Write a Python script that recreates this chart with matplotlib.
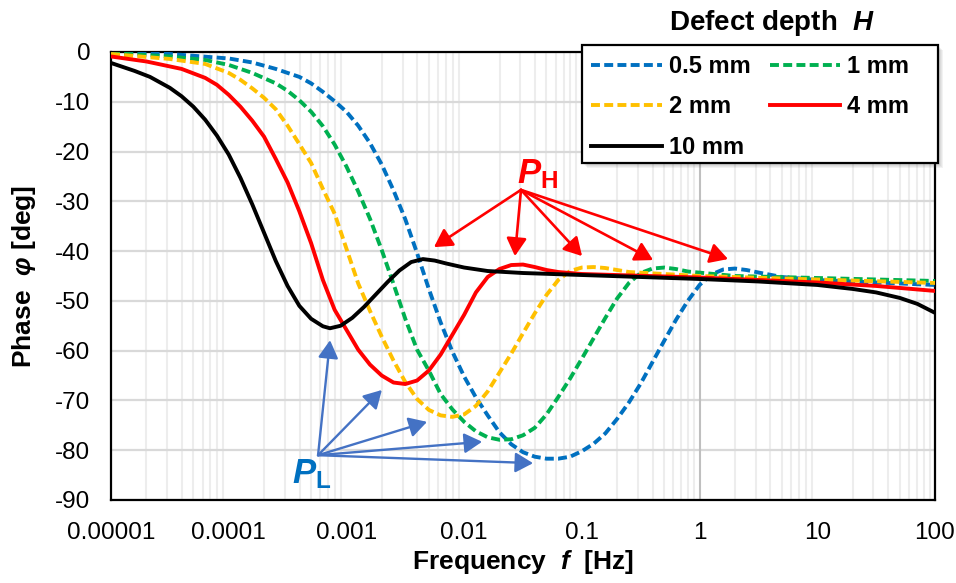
import matplotlib
matplotlib.use("Agg")
import matplotlib.pyplot as plt
from matplotlib.patches import Rectangle
from matplotlib.ticker import FixedLocator, NullFormatter
import numpy as np

plt.rcParams["font.family"] = ["Liberation Sans", "DejaVu Sans"]
plt.rcParams["mathtext.fontset"] = "custom"
plt.rcParams["mathtext.it"] = "Liberation Sans:italic:bold"
plt.rcParams["mathtext.bf"] = "Liberation Sans:bold"
plt.rcParams["mathtext.rm"] = "Liberation Sans:bold"

# values: log10(frequency / Hz) and phase [deg]
logf_05 = [-5.0, -4.5, -4.0, -3.8, -3.6, -3.4, -3.3, -3.2, -3.1, -3.0,
           -2.9, -2.8, -2.7, -2.6, -2.5, -2.4, -2.3, -2.2, -2.1, -2.0,
           -1.9, -1.8, -1.7, -1.6, -1.5, -1.4, -1.3, -1.2, -1.1, -1.0,
           -0.9, -0.8, -0.7, -0.6, -0.5, -0.4, -0.3, -0.2, -0.1, 0.0,
           0.1, 0.2, 0.3, 0.4, 0.5, 0.7, 1.0, 1.5, 2.0]
phase_05 = [-0.1, -0.4, -1.3, -2.1, -3.4, -5.0, -6.3, -8.0, -9.9, -12.0,
            -14.8, -18.3, -22.6, -27.8, -33.6, -40.4, -47.6, -54.3, -60.2, -65.2,
            -69.4, -73.0, -76.4, -78.8, -80.4, -81.3, -81.7, -81.7, -81.3, -80.2,
            -78.7, -76.6, -73.7, -70.4, -66.6, -62.3, -58.0, -53.8, -50.0, -46.8,
            -44.7, -43.7, -43.5, -43.8, -44.3, -45.2, -45.8, -46.3, -46.8]

logf_1 = [-5.0, -4.5, -4.2, -4.0, -3.8, -3.6, -3.5, -3.4, -3.3, -3.2,
          -3.1, -3.0, -2.9, -2.8, -2.7, -2.6, -2.5, -2.4, -2.3, -2.2,
          -2.1, -2.0, -1.9, -1.8, -1.7, -1.6, -1.5, -1.4, -1.3, -1.2,
          -1.1, -1.0, -0.9, -0.8, -0.7, -0.6, -0.5, -0.4, -0.3, -0.2,
          -0.1, 0.3, 1.0, 2.0]
phase_1 = [-0.2, -0.9, -1.6, -2.6, -4.2, -6.3, -7.8, -9.7, -12.0, -14.9,
           -18.6, -23.0, -28.0, -33.5, -39.8, -46.6, -53.6, -59.8, -64.0, -68.7,
           -71.8, -74.3, -76.2, -77.4, -77.9, -77.8, -77.0, -75.5, -72.8, -69.3,
           -65.6, -61.6, -57.5, -53.4, -49.5, -46.4, -44.4, -43.5, -43.3, -43.6,
           -44.1, -45.0, -45.4, -46.0]

logf_2 = [-5.0, -4.5, -4.2, -4.0, -3.9, -3.8, -3.7, -3.6, -3.5, -3.4,
          -3.3, -3.2, -3.1, -3.0, -2.9, -2.8, -2.7, -2.6, -2.5, -2.4,
          -2.3, -2.2, -2.1, -2.0, -1.9, -1.8, -1.7, -1.6, -1.5, -1.4,
          -1.3, -1.2, -1.1, -1.0, -0.9, -0.8, -0.6, 0.0, 1.0, 2.0]
phase_2 = [-0.4, -1.4, -2.4, -4.2, -5.6, -7.3, -9.2, -11.5, -14.8, -18.5,
           -22.3, -27.5, -32.5, -39.5, -46.5, -52.0, -57.2, -62.0, -66.3, -69.7,
           -71.9, -73.0, -73.3, -72.8, -71.1, -68.2, -64.4, -60.6, -56.5, -52.5,
           -48.8, -45.8, -44.0, -43.3, -43.2, -43.4, -44.2, -45.0, -45.7, -46.4]

logf_4 = [-5.0, -4.7, -4.4, -4.2, -4.1, -4.0, -3.9, -3.8, -3.7, -3.6,
          -3.5, -3.4, -3.3, -3.2, -3.1, -3.0, -2.9, -2.8, -2.7, -2.6,
          -2.5, -2.4, -2.3, -2.2, -2.1, -2.0, -1.9, -1.8, -1.7, -1.6,
          -1.5, -1.4, -1.3, -1.2, -1.0, 0.0, 1.0, 1.5, 2.0]
phase_4 = [-0.9, -1.9, -3.4, -5.2, -6.6, -8.6, -11.0, -13.8, -17.0, -21.5,
           -26.2, -32.0, -38.4, -45.8, -51.8, -55.8, -59.8, -62.8, -65.0, -66.4,
           -66.7, -66.0, -64.0, -60.8, -56.8, -52.8, -48.3, -45.2, -43.6, -42.8,
           -42.7, -43.2, -43.8, -44.2, -44.6, -45.3, -46.3, -47.0, -48.0]

logf_10 = [-5.0, -4.8, -4.669, -4.5, -4.4, -4.3, -4.2, -4.1, -4.0, -3.9,
           -3.8, -3.7, -3.6, -3.5, -3.4, -3.3, -3.2, -3.14, -3.05, -2.95,
           -2.85, -2.75, -2.65, -2.55, -2.45, -2.35, -2.25, -2.15, -2.0, -1.8,
           -1.5, -1.0, -0.5, 0.0, 0.5, 1.0, 1.3, 1.5, 1.7, 1.85, 2.0]
phase_10 = [-2.2, -3.8, -5.0, -7.2, -8.9, -11.0, -13.6, -16.8, -20.6, -25.3,
            -30.6, -36.3, -42.0, -47.0, -51.0, -53.6, -55.1, -55.5, -55.0, -53.4,
            -51.2, -48.7, -46.2, -43.9, -42.2, -41.6, -41.9, -42.5, -43.3, -44.0,
            -44.4, -44.8, -45.2, -45.6, -46.1, -46.8, -47.6, -48.3, -49.4, -50.6, -52.4]

labels = ["0.5 mm", "1 mm", "2 mm", "4 mm", "10 mm"]
colors = ["#0070C0", "#00B050", "#FFC000", "#FF0000", "#000000"]
dashed = [True, True, True, False, False]

x_ticks = [1e-5, 1e-4, 1e-3, 1e-2, 1e-1, 1, 10, 100]
x_tick_labels = ["0.00001", "0.0001", "0.001", "0.01", "0.1", "1", "10", "100"]
y_ticks = [0, -10, -20, -30, -40, -50, -60, -70, -80, -90]

# annotation arrows (frequency, phase)
ph_source = (0.0304, -27.7)
ph_targets = [(0.00554, -39.2), (0.0270, -41.0), (0.1004, -41.0), (0.403, -41.8), (1.746, -41.6)]
pl_source = (5.74e-4, -81.0)
pl_targets = [(7.26e-4, -57.9), (2.0e-3, -67.9), (4.84e-3, -74.3), (0.0142, -78.3), (0.0385, -82.6)]

W, H = 956, 583
fig = plt.figure(figsize=(W / 100, H / 100), dpi=100)
ax = fig.add_axes([111 / W, 1 - 500 / H, 824 / W, 448 / H])
ax.set_xscale("log")
ax.set_xlim(1e-5, 100)
ax.set_ylim(-90, 0)

# grid
ax.xaxis.set_major_locator(FixedLocator(x_ticks))
ax.xaxis.set_minor_locator(FixedLocator(
    [m * 10.0 ** e for e in range(-5, 2) for m in range(1, 10)]))
ax.xaxis.set_minor_formatter(NullFormatter())
ax.set_xticklabels(x_tick_labels)
ax.set_yticks(y_ticks)
ax.set_yticklabels([str(v) for v in y_ticks])
ax.grid(which="minor", axis="x", color="#EDEDED", lw=1.5, zorder=0)
ax.grid(which="major", axis="y", color="#D9D9D9", lw=1.6, zorder=0)
ax.axvline(1, color="#BFBFBF", lw=1.5, zorder=1)
ax.set_axisbelow(True)
ax.tick_params(which="both", length=0, labelsize=17.5)
ax.tick_params(axis="y", pad=15)
ax.tick_params(axis="x", pad=16)
for sp in ax.spines.values():
    sp.set_linewidth(1.6)
    sp.set_color("black")

series = [(logf_05, phase_05), (logf_1, phase_1), (logf_2, phase_2),
          (logf_4, phase_4), (logf_10, phase_10)]
handles = []
for (lf, ph), lab, c, d in zip(series, labels, colors, dashed):
    ls = (0, (2.3, 1.1)) if d else "-"
    h, = ax.plot(10.0 ** np.array(lf), ph, color=c, lw=2.8, ls=ls, label=lab, zorder=3)
    handles.append(h)

ax.set_xlabel("Frequency  $f$  [Hz]", fontsize=19, fontweight="bold", labelpad=3)
ax.set_ylabel("Phase  $\\varphi$ [deg]", fontsize=19, fontweight="bold", labelpad=12)

# arrows
arrow_red = dict(arrowstyle="-|>,head_length=0.6,head_width=0.34", color="#FF0000",
                 lw=1.9, shrinkA=0, shrinkB=0, mutation_scale=18)
for t in ph_targets:
    ax.annotate("", xy=t, xytext=ph_source, arrowprops=arrow_red, zorder=5)
arrow_blue = dict(arrowstyle="-|>,head_length=0.6,head_width=0.34", color="#4472C4",
                  lw=1.7, shrinkA=0, shrinkB=0, mutation_scale=18)
for t in pl_targets:
    ax.annotate("", xy=t, xytext=pl_source, arrowprops=arrow_blue, zorder=5)

ax.text(0.0281, -26.3, "$P_{\\mathrm{H}}$", color="#FF0000", fontsize=25,
        ha="left", va="baseline", zorder=6)
ax.text(3.45e-4, -86.6, "$P_{\\mathrm{L}}$", color="#0070C0", fontsize=25,
        ha="left", va="baseline", zorder=6)

# legend box with soft shadow
box = (582, 45, 356, 118)
for k in range(1, 6):
    fig.add_artist(Rectangle(((box[0] + k) / W, 1 - (box[1] + box[3] + k) / H),
                             box[2] / W, box[3] / H, transform=fig.transFigure,
                             facecolor="0.3", edgecolor="none", alpha=0.07, zorder=3))
fig.add_artist(Rectangle((box[0] / W, 1 - (box[1] + box[3]) / H), box[2] / W, box[3] / H,
                         transform=fig.transFigure, facecolor="white",
                         edgecolor="black", lw=1.6, zorder=4))

# legend: row-major order in 2 columns
order = [0, 2, 4, 1, 3]
leg = fig.legend([handles[i] for i in order], [labels[i] for i in order],
                 loc="upper left", bbox_to_anchor=(591 / W, 1 - 55 / H),
                 ncol=2, frameon=False, prop={"weight": "bold", "size": 17},
                 handlelength=3.0, handletextpad=0.3, columnspacing=0.8,
                 labelspacing=0.74, borderpad=0, borderaxespad=0)
leg.set_zorder(5)
fig.text(772 / W, 1 - 23 / H, "Defect depth  $H$", fontsize=20, fontweight="bold",
         ha="center", va="center")

fig.savefig("out.png", dpi=100)
